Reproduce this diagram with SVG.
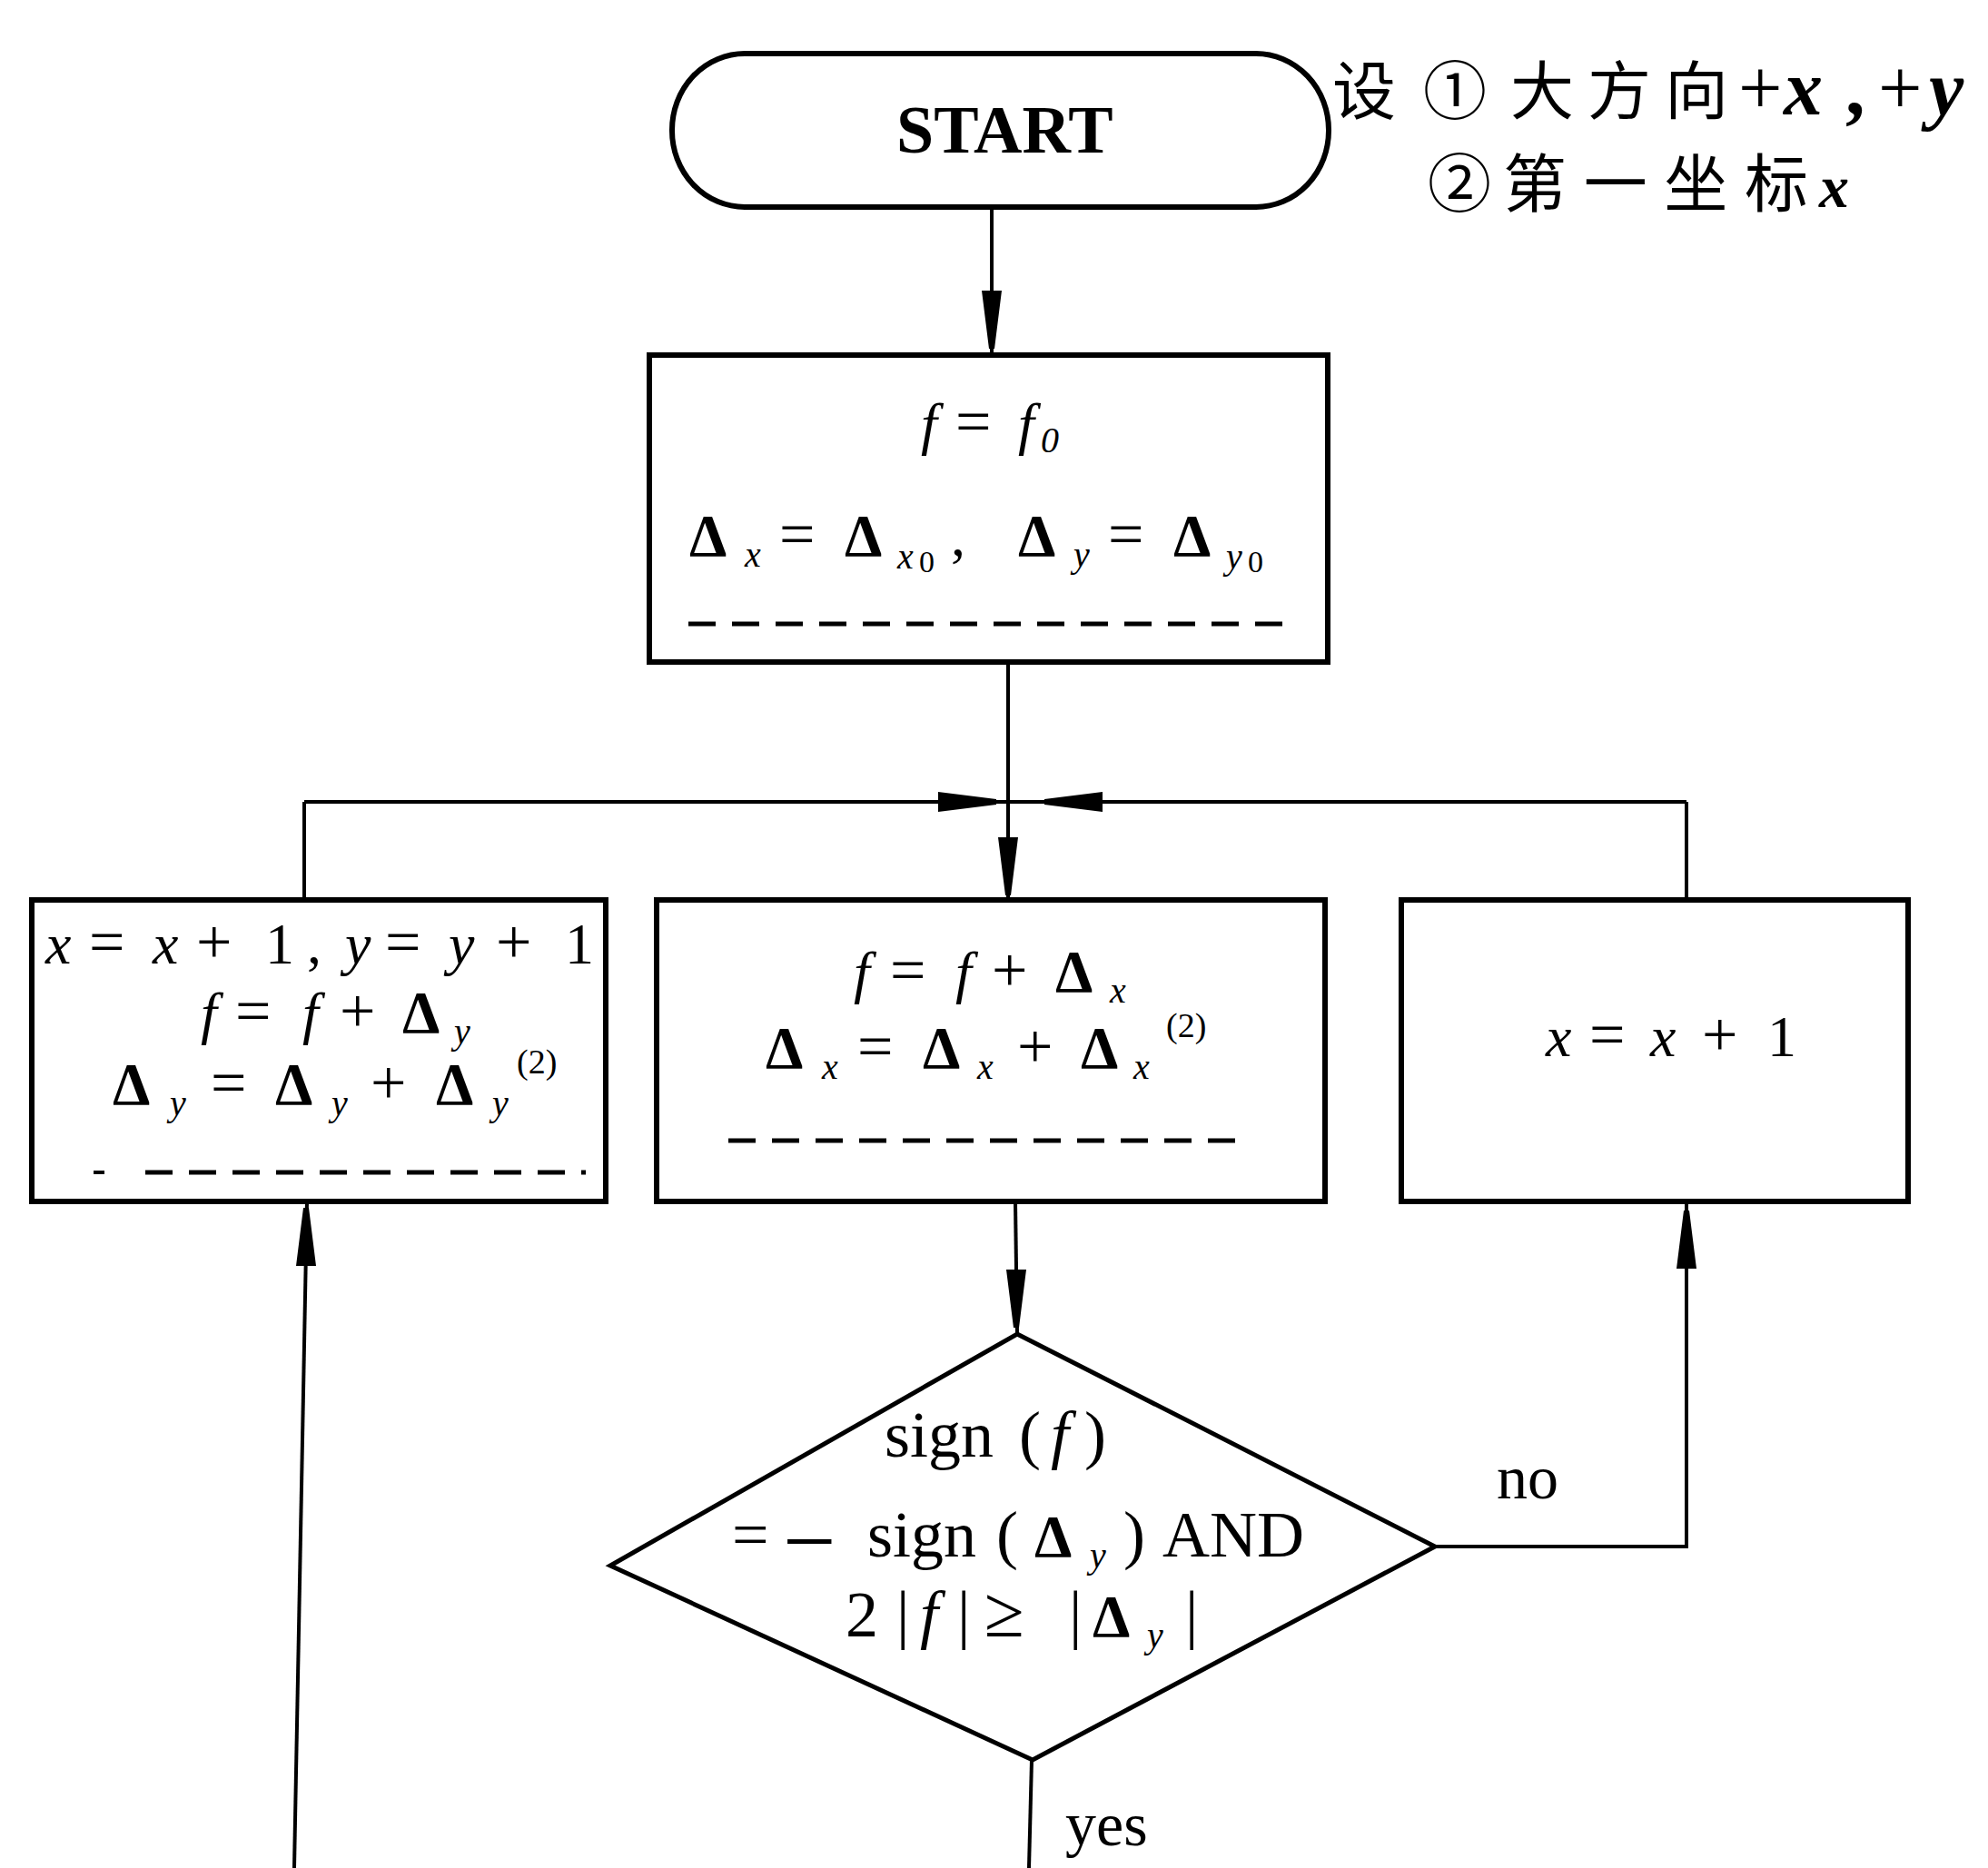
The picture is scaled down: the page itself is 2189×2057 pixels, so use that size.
<svg xmlns="http://www.w3.org/2000/svg" width="2189" height="2057" viewBox="0 0 2189 2057">
<style>
.bg{fill:#fff}
.box{fill:#fff;stroke:#000;stroke-width:6}
.dia{fill:#fff;stroke:#000;stroke-width:5;stroke-linejoin:miter}
.ln{fill:none;stroke:#000;stroke-width:4}
.dash{fill:none;stroke:#000;stroke-width:5;stroke-dasharray:30 18}
.ah{fill:#000}
text{font-family:"Liberation Serif","Noto Sans CJK SC",serif;fill:#000}
.m{font-size:64px}
.dm{font-size:72px}
.op{font-size:70px}
.i{font-style:italic}
.D{font-weight:bold;font-size:66px;font-style:normal}
.s{font-size:40px;font-style:italic}
.ss{font-size:34px}
.sup{font-size:38px}
.cjk{font-family:"Noto Sans CJK SC","Liberation Serif",sans-serif;font-size:70px}
.lbl{font-size:68px}
</style>
<defs>
<path id="ah" d="M-3,0 L3,0 L11,-64 L-11,-64 Z"/>
</defs>
<rect class="bg" x="0" y="0" width="2189" height="2057"/>

<g id="connectors">
<path class="ln" d="M1092,228 L1092,391"/>
<path class="ln" d="M1110,729 L1110,991"/>
<path class="ln" d="M335,883 L1857,883"/>
<path class="ln" d="M335,883 L335,991"/>
<path class="ln" d="M1857,883 L1857,991"/>
<path class="ln" d="M1118,1323 L1120,1469"/>
<path class="ln" d="M1580,1703 L1857,1703 L1857,1323"/>
<path class="ln" d="M1136,1938 L1133,2057"/>
<path class="ln" d="M324,2057 L338,1323"/>
<use class="ah" href="#ah" transform="translate(1092,384)"/>
<use class="ah" href="#ah" transform="translate(1110,986)"/>
<use class="ah" href="#ah" transform="translate(1097,883) rotate(-90)"/>
<use class="ah" href="#ah" transform="translate(1150,883) rotate(90)"/>
<use class="ah" href="#ah" transform="translate(1119,1462)"/>
<use class="ah" href="#ah" transform="translate(1857,1333) rotate(180)"/>
<use class="ah" href="#ah" transform="translate(337,1330) rotate(180)"/>
<text class="lbl" x="1648" y="1650">no</text>
<text class="lbl" x="1173" y="2032">yes</text>
</g>

<g id="start">
<rect class="box" x="740" y="59" width="723" height="169" rx="80" ry="84"/>
<text x="987" y="168" font-size="74" font-weight="bold">START</text>
</g>

<g id="note">
<text class="cjk" x="1467" y="126">设</text>
<text class="cjk" x="1567" y="126">①</text>
<text class="cjk" x="1663" y="126" textLength="240" lengthAdjust="spacing">大方向</text>
<text y="126" font-size="86"><tspan x="1914">+</tspan><tspan x="1964" font-weight="bold" font-style="italic">x</tspan><tspan x="2032" font-weight="bold">,</tspan><tspan x="2068">+</tspan><tspan x="2124" font-weight="bold" font-style="italic">y</tspan></text>
<text class="cjk" x="1572" y="228">②</text>
<text class="cjk" x="1655" y="228" textLength="336" lengthAdjust="spacing">第一坐标</text>
<text x="2003" y="228" font-size="66" font-weight="bold" font-style="italic">x</text>
</g>

<g id="init">
<rect class="box" x="715" y="391" width="747" height="338"/>
<text class="m"><tspan class="i" x="1014" y="488">f</tspan><tspan class="op" x="1052" y="488">=</tspan><tspan class="i" x="1121" y="488">f</tspan><tspan class="s" x="1146" y="498">0</tspan></text>
<text class="m"><tspan class="D" x="759" y="612">Δ</tspan><tspan class="s" x="820" y="624">x</tspan><tspan class="op" x="858" y="612">=</tspan><tspan class="D" x="930" y="612">Δ</tspan><tspan class="s" x="988" y="626">x</tspan><tspan class="ss" x="1012" y="630">0</tspan><tspan x="1047" y="612">,</tspan><tspan class="D" x="1121" y="612">Δ</tspan><tspan class="s" x="1182" y="624">y</tspan><tspan class="op" x="1220" y="612">=</tspan><tspan class="D" x="1292" y="612">Δ</tspan><tspan class="s" x="1350" y="626">y</tspan><tspan class="ss" x="1374" y="630">0</tspan></text>
<path class="dash" d="M758,687 L1421,687"/>
</g>

<g id="diag">
<rect class="box" x="35" y="991" width="632" height="332"/>
<text class="m"><tspan class="i" x="50" y="1061">x</tspan><tspan class="op" x="98" y="1061">=</tspan><tspan class="i" x="168" y="1061">x</tspan><tspan class="op" x="216" y="1061">+</tspan><tspan x="292" y="1061">1</tspan><tspan x="338" y="1061">,</tspan><tspan class="i" x="380" y="1061">y</tspan><tspan class="op" x="424" y="1061">=</tspan><tspan class="i" x="494" y="1061">y</tspan><tspan class="op" x="546" y="1061">+</tspan><tspan x="622" y="1061">1</tspan></text>
<text class="m"><tspan class="i" x="221" y="1137">f</tspan><tspan class="op" x="259" y="1137">=</tspan><tspan class="i" x="333" y="1137">f</tspan><tspan class="op" x="374" y="1137">+</tspan><tspan class="D" x="443" y="1137">Δ</tspan><tspan class="s" x="500" y="1149">y</tspan></text>
<text class="m"><tspan class="D" x="124" y="1216">Δ</tspan><tspan class="s" x="187" y="1228">y</tspan><tspan class="op" x="232" y="1216">=</tspan><tspan class="D" x="303" y="1216">Δ</tspan><tspan class="s" x="365" y="1228">y</tspan><tspan class="op" x="408" y="1216">+</tspan><tspan class="D" x="480" y="1216">Δ</tspan><tspan class="s" x="542" y="1228">y</tspan><tspan class="sup" x="569" y="1182">(2)</tspan></text>
<path class="ln" d="M103,1291 L115,1291"/>
<path class="dash" d="M160,1291 L645,1291"/>
</g>

<g id="axial">
<rect class="box" x="723" y="991" width="736" height="332"/>
<text class="m"><tspan class="i" x="940" y="1092">f</tspan><tspan class="op" x="980" y="1092">=</tspan><tspan class="i" x="1052" y="1092">f</tspan><tspan class="op" x="1092" y="1092">+</tspan><tspan class="D" x="1162" y="1092">Δ</tspan><tspan class="s" x="1222" y="1104">x</tspan></text>
<text class="m"><tspan class="D" x="843" y="1176">Δ</tspan><tspan class="s" x="905" y="1188">x</tspan><tspan class="op" x="944" y="1176">=</tspan><tspan class="D" x="1016" y="1176">Δ</tspan><tspan class="s" x="1076" y="1188">x</tspan><tspan class="op" x="1120" y="1176">+</tspan><tspan class="D" x="1190" y="1176">Δ</tspan><tspan class="s" x="1248" y="1188">x</tspan><tspan class="sup" x="1284" y="1142">(2)</tspan></text>
<path class="dash" d="M802,1256 L1368,1256"/>
</g>

<g id="stepx">
<rect class="box" x="1543" y="991" width="558" height="332"/>
<text class="m"><tspan class="i" x="1702" y="1163">x</tspan><tspan class="op" x="1750" y="1163">=</tspan><tspan class="i" x="1817" y="1163">x</tspan><tspan class="op" x="1874" y="1163">+</tspan><tspan x="1946" y="1163">1</tspan></text>
</g>

<g id="decision">
<path class="dia" d="M1120,1469 L1580,1703 L1137,1938 L672,1724 Z"/>
<text class="dm"><tspan x="974" y="1604">sign</tspan><tspan x="1122" y="1604">(</tspan><tspan class="i" x="1157" y="1604">f</tspan><tspan x="1194" y="1604">)</tspan></text>
<text class="dm"><tspan x="806" y="1714">=</tspan><tspan font-size="104" x="862" y="1732">−</tspan><tspan x="955" y="1714">sign</tspan><tspan x="1097" y="1714">(</tspan><tspan class="D" x="1139" y="1714">Δ</tspan><tspan class="s" x="1200" y="1726">y</tspan><tspan x="1237" y="1714">)</tspan><tspan x="1280" y="1714">AND</tspan></text>
<text class="dm"><tspan x="931" y="1802">2</tspan><tspan x="987" y="1802">|</tspan><tspan class="i" x="1013" y="1802">f</tspan><tspan x="1054" y="1802">|</tspan><tspan font-size="80" x="1084" y="1802">≥</tspan><tspan x="1177" y="1802">|</tspan><tspan class="D" x="1203" y="1802">Δ</tspan><tspan class="s" x="1263" y="1814">y</tspan><tspan x="1305" y="1802">|</tspan></text>
</g>
</svg>
